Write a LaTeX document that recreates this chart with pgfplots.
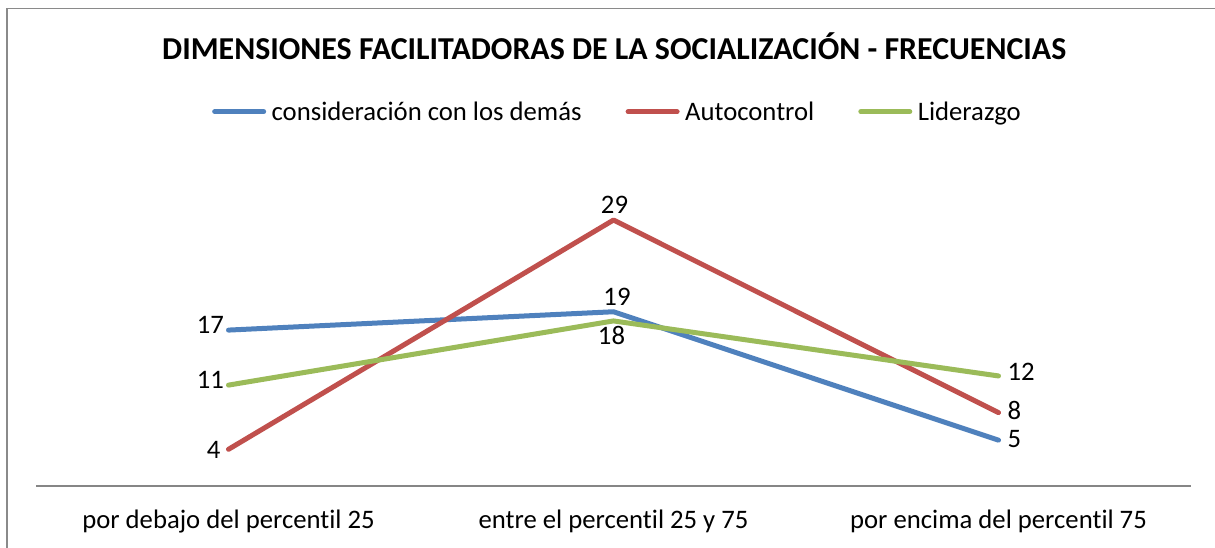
\documentclass[border=0pt]{standalone}
\usepackage{pgfplots}
\pgfplotsset{compat=1.18}
\usepackage{fontspec}
\setmainfont{Carlito}[Ligatures=NoCommon]
\definecolor{cblue}{HTML}{4F81BD}
\definecolor{cred}{HTML}{C0504D}
\definecolor{cgreen}{HTML}{9BBB59}
\definecolor{cgray}{HTML}{868686}
\definecolor{cframe}{HTML}{8A8A8A}
\newcommand{\lbl}{\fontsize{26.7}{31}\selectfont}

\pgfplotsset{
  lbl/.style n args={3}{draw=none, mark=none, forget plot,
    point meta=explicit symbolic,
    nodes near coords,
    nodes near coords style={font=\lbl, text=black, inner sep=0pt, anchor=#1, xshift=#2, yshift=#3}},
}

\begin{document}
\begin{tikzpicture}[x=1pt,y=1pt]
\useasboundingbox (0,0) rectangle (1215,547);
\draw[cframe, line width=1.8pt] (7,-10) -- (7,538.5) -- (1230,538.5);
\begin{axis}[
  at={(36pt,61pt)}, anchor=south west,
  scale only axis, width=1155pt, height=321pt,
  xmin=-0.5, xmax=2.5, ymin=0, ymax=35,
  axis x line=bottom, axis y line=none,
  x axis line style={cgray, line width=1.5pt, -},
  xtick={0,1,2},
  xticklabels={por debajo del percentil 25, entre el percentil 25 y 75, por encima del percentil 75},
  major tick length=0pt,
  xtick style={draw=none},
  xticklabel style={font=\lbl, anchor=base, inner sep=0pt, yshift=-42.5pt},
  clip=false,
  legend columns=3,
  legend style={at={(0.5026,1.166)}, anchor=center, draw=none, fill=none, font=\lbl,
    inner sep=0pt, nodes={inner sep=0pt},
    /tikz/every odd column/.append style={column sep=5.5pt},
    /tikz/every even column/.append style={column sep=44pt}},
  legend image code/.code={\draw[#1, line cap=round] (0pt,0pt) -- (49pt,0pt);},
]
\addplot[cblue, line width=5pt, line cap=round, line join=round, mark=none] coordinates {(0,17) (1,19) (2,5)};
\addlegendentry{consideración con los demás}
\addplot[cred, line width=5pt, line cap=round, line join=round, mark=none] coordinates {(0,4) (1,29) (2,8)};
\addlegendentry{Autocontrol}
\addplot[cgreen, line width=5pt, line cap=round, line join=round, mark=none] coordinates {(0,11) (1,18) (2,12)};
\addlegendentry{Liderazgo}
% data labels
\addplot[lbl={east}{-4.4pt}{5pt}] coordinates {(0,17) [17]};
\addplot[lbl={south}{3.5pt}{6pt}] coordinates {(1,19) [19]};
\addplot[lbl={west}{9pt}{1.5pt}] coordinates {(2,5) [5]};
\addplot[lbl={east}{-8pt}{-1pt}] coordinates {(0,4) [4]};
\addplot[lbl={south}{1pt}{6.5pt}] coordinates {(1,29) [29]};
\addplot[lbl={west}{9pt}{2pt}] coordinates {(2,8) [8]};
\addplot[lbl={east}{-4.4pt}{5.5pt}] coordinates {(0,11) [11]};
\addplot[lbl={north}{-2pt}{-5pt}] coordinates {(1,18) [18]};
\addplot[lbl={west}{9pt}{4pt}] coordinates {(2,12) [12]};
\end{axis}
\node[font=\bfseries\fontsize{31.9}{37}\selectfont, anchor=base, inner sep=0pt] at (614.2,487.7) {DIMENSIONES FACILITADORAS DE LA SOCIALIZACIÓN - FRECUENCIAS};
\end{tikzpicture}
\end{document}
